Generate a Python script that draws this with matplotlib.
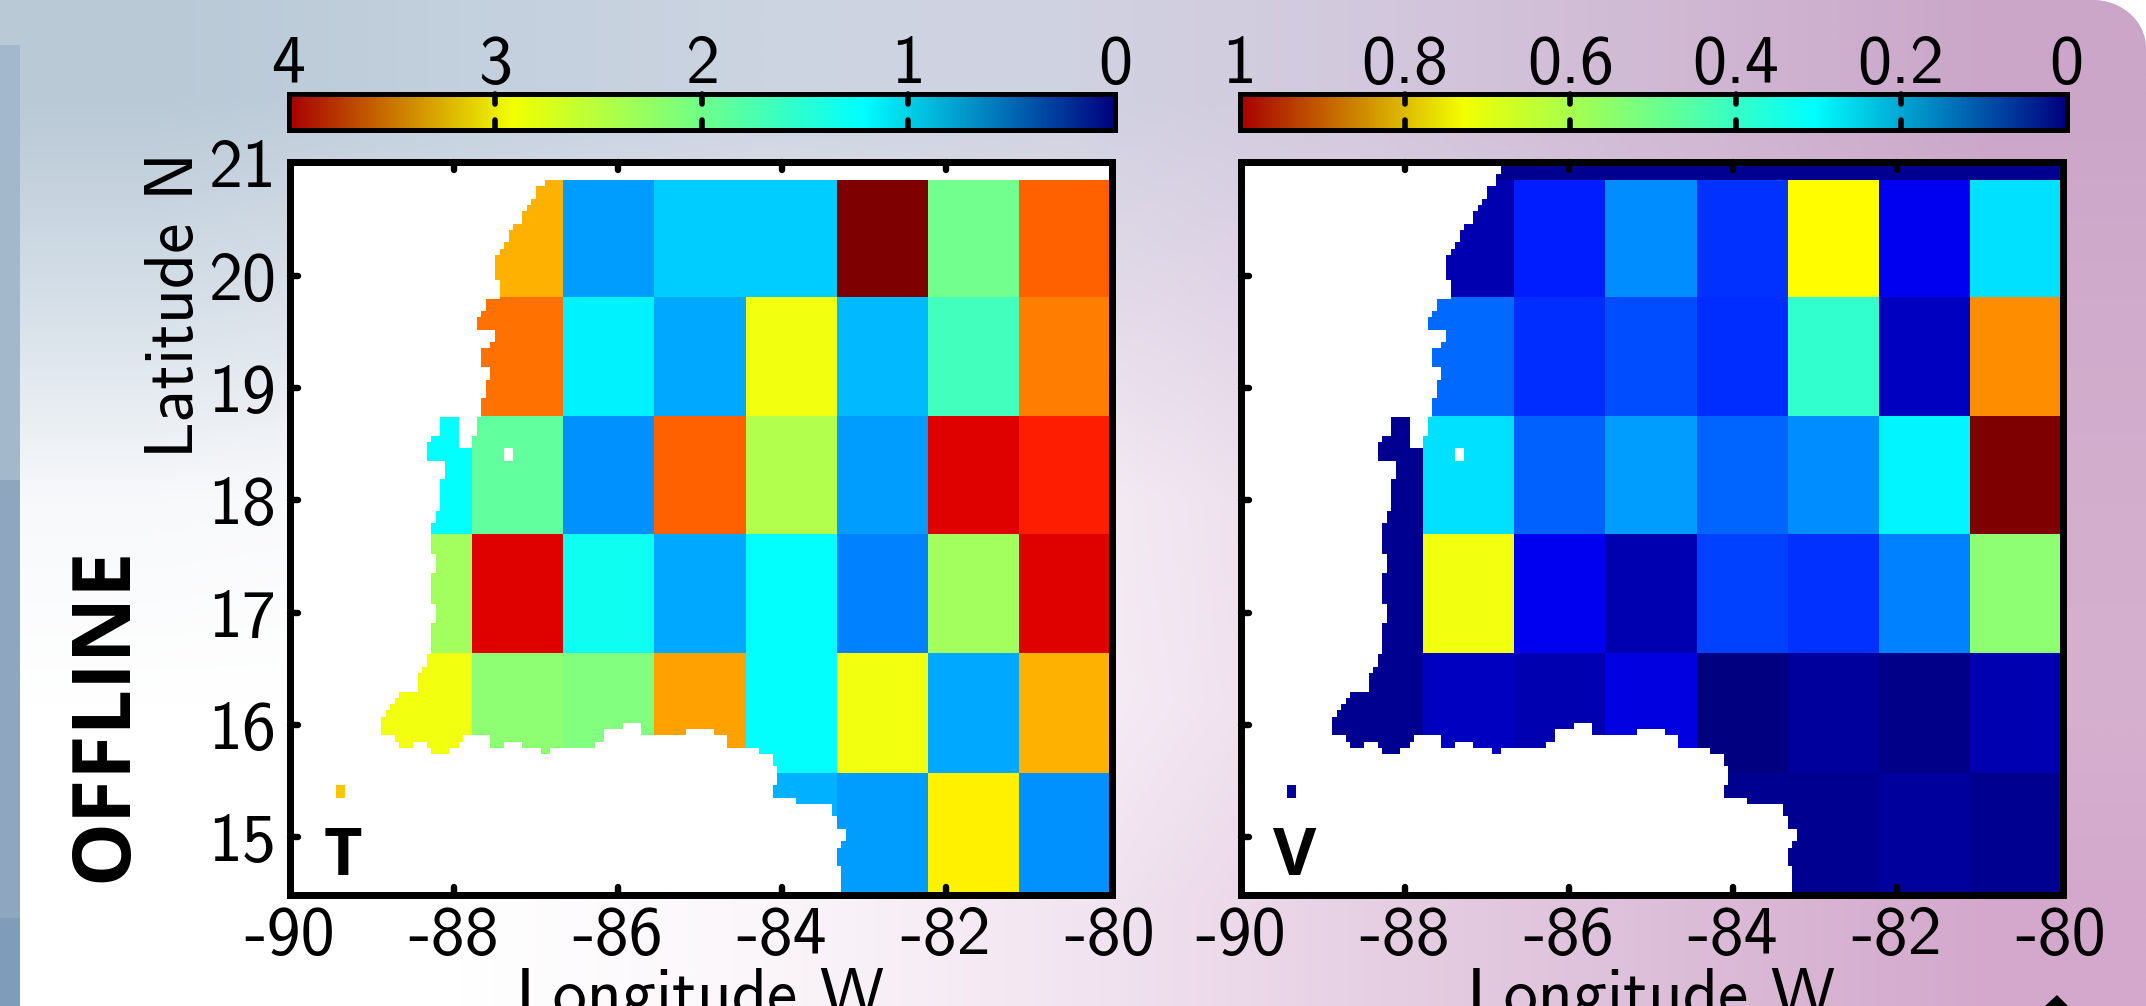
#!/usr/bin/env python3
# T and V offline maps over the Yucatan / western Caribbean, on the slide background
import numpy as np
import matplotlib
matplotlib.use('Agg')
import matplotlib.pyplot as plt
from matplotlib.colors import LinearSegmentedColormap, ListedColormap
from matplotlib.markers import MarkerStyle, TICKUP, TICKDOWN, TICKRIGHT
from matplotlib.patches import Rectangle, Polygon

W, H = 2146, 1006

# coarse boxes, 9 in longitude, rows from south to north, last row is the strip at the top
lon_edges = np.linspace(-90, -80, 10)
lat_edges = [14.49, 15.57, 16.64, 17.70, 18.75, 19.81, 20.85, 21.02]
nan = np.nan

T_vals = [
    [2.72, nan, nan, nan, nan, 1.20, 1.11, 2.56, 1.07],
    [nan, 2.44, 2.06, 2.00, 2.87, 1.50, 2.44, 1.17, 2.81],
    [nan, 2.13, 3.62, 1.56, 1.17, 1.50, 1.00, 2.13, 3.62],
    [nan, 1.50, 1.88, 1.07, 3.12, 2.19, 1.11, 3.62, 3.38],
    [nan, nan, 3.06, 1.44, 1.17, 2.44, 1.23, 1.75, 3.00],
    [nan, nan, 2.81, 1.11, 1.30, 1.30, 4.00, 1.94, 3.12],
    [nan, nan, nan, nan, nan, nan, nan, nan, nan],
]
V_vals = [
    [0.03, nan, nan, nan, nan, 0.016, 0.016, 0.0275, 0.016],
    [nan, 0.016, 0.0625, 0.0475, 0.095, 0.00, 0.0275, 0.008, 0.0475],
    [nan, 0.016, 0.61, 0.11, 0.0475, 0.1875, 0.172, 0.25, 0.515],
    [nan, 0.016, 0.345, 0.219, 0.2775, 0.223, 0.2625, 0.365, 1.00],
    [nan, nan, 0.227, 0.168, 0.20, 0.168, 0.4225, 0.0625, 0.7375],
    [nan, nan, 0.0475, 0.156, 0.2625, 0.172, 0.625, 0.11, 0.345],
    [nan, nan, 0.016, 0.016, 0.016, 0.016, 0.016, 0.016, 0.016],
]
# matlab style jet, pure cyan and pure yellow are in the boxes
jet_pos = [0.0, 0.125, 0.375, 0.625, 0.875, 1.0]
jet_colors = ['#000080', '#0000ff', '#00ffff', '#ffff00', '#ff0000', '#7f0000']

# land mask on the 1/18 degree grid
# first sea column of each fine row, from the top row (north) to the south
first_sea_col = [57, 57, 56,
    56, 54, 54, 53, 52, 51, 51, 49, 48, 48, 47, 46, 45, 45, 45, 45, 46, 46, 46,
    43, 43, 42, 41, 41, 45, 45, 44, 42, 42, 42, 44, 44, 43, 43, 43, 42, 42, 42,
    33, 33, 33, 31, 30, 30, 30, 34, 34, 34, 33, 33, 33, 33, 33, 32, 32, 31, 31,
    31, 31, 31, 32, 32, 32, 31, 31, 31, 31, 31, 32, 32, 32, 31, 31, 31, 31, 31,
    30, 30, 29, 28, 28, 28, 24, 23, 22, 21, 20, 20, 20, 20, 20, 20,
    106, 106, 107, 107, 107, 106, 106, 111, 119, 119, 120, 120, 122, 122, 121,
    120, 120, 120, 121, 121, 121, 121, 121]
ROW0 = 3    # rows of the list above row 0, which starts at 20.852N
# last sea row (counted from row 0) of columns 20 to 105
south_edge_cols = [89, 89, 89, 90, 91, 91, 91, 90, 90, 90, 91, 92, 92, 92, 92,
    91, 91, 90, 89, 89, 89, 89, 89, 89, 91, 91, 91, 90, 90, 90, 90, 91, 91, 91,
    91, 92, 92, 91, 91, 91, 91, 91, 91, 91, 91, 91, 91, 90, 90, 88, 88, 88, 88,
    87, 87, 87, 87, 89, 89, 89, 89, 89, 89, 89, 89, 89, 89, 88, 88, 88, 88, 88,
    88, 89, 89, 89, 91, 91, 91, 91, 91, 91, 91, 92, 92, 92]
# (row, column) of the fine cells that break those two rules
bay_cells = [(r, c) for r in (38, 39, 40) for c in (37, 38, 39, 40)] + \
            [(r, c) for r in (41, 42) for c in (37, 38, 39)]
hole_cells = [(43, 47), (43, 48), (44, 47), (44, 48)]
island_cells = [(97, 10), (97, 11), (98, 10), (98, 11)]

cbar_T_ticks = [4, 3, 2, 1, 0]
cbar_V_ticks = [1, 0.8, 0.6, 0.4, 0.2, 0]
cbar_V_labels = ['1', '0.8', '0.6', '0.4', '0.2', '0']
lon_ticks = [-90, -88, -86, -84, -82, -80]
lat_ticks = [15, 16, 17, 18, 19, 20, 21]

# the colour bars do not use jet, they are a plain 4 stop ramp
cbar_pos = [0.0, 0.305, 0.73, 1.0]
cbar_colors = ['#00007f', '#00ffff', '#f2ff00', '#a80000']

# slide background, coarse colours blended across the page
bg_colors = [
    ['#b9c9d6', '#c3d0de', '#ccd4e1', '#d0d2e1', '#d3c8dd', '#d0b8d3', '#cba6c9'],
    ['#d5dfe8', '#dfe4ec', '#e6e7f0', '#e4dcea', '#dfd0e4', '#d7bfd7', '#d0abcb'],
    ['#f8f9fb', '#fbfbfd', '#f8f5f9', '#f5edf5', '#e9d8e8', '#dcc4db', '#d4aecd'],
    ['#ffffff', '#ffffff', '#fbf8fb', '#f6eef6', '#ecd9ea', '#e0c6dd', '#d6b0cf'],
    ['#ffffff', '#ffffff', '#fbf6fa', '#f2e5f1', '#e6cfe3', '#dcbdd8', '#d3a8cc'],
]
# left strip of the slide, top to bottom
strip_colors = ['#a4b8cb', '#8fa7be', '#7f9cb8']

plt.rcParams['font.family'] = ['cmss10', 'DejaVu Sans']
plt.rcParams['axes.unicode_minus'] = False
FS = 49
LW = 7 * 72 / 100.      # spine widths are given in pixels at dpi 100
LWC = 5 * 72 / 100.


def px_axes(fig, x0, y0, x1, y1):
    # axes from pixel box, y measured from the top of the image
    return fig.add_axes([x0 / W, 1 - y1 / H, (x1 - x0) / W, (y1 - y0) / H])


def land_mask():
    nrow, ncol = len(first_sea_col), 180
    land = np.ones((nrow, ncol), dtype=bool)
    for i, c in enumerate(first_sea_col):
        land[i, c:] = False
    for k, e in enumerate(south_edge_cols):
        land[e + ROW0:, k + 20] = True
    for r, c in bay_cells + hole_cells:
        land[r + ROW0, c] = True
    for r, c in island_cells:
        land[r + ROW0, c] = False
    return land


def draw_map(ax, vals, vmax, land, letter, lab_left):
    jet = LinearSegmentedColormap.from_list('jet2', list(zip(jet_pos, jet_colors)), N=256)
    ax.pcolormesh(lon_edges, lat_edges, np.ma.masked_invalid(vals), cmap=jet,
                  vmin=0, vmax=vmax, antialiased=False)
    lon_f = np.linspace(-90, -80, 181)
    lat_f = 20.852 - (np.arange(land.shape[0] + 1) - ROW0) / 18.
    ax.pcolormesh(lon_f, lat_f, np.ma.masked_where(~land, land.astype(float)),
                  cmap=ListedColormap(['white']), antialiased=False)
    ax.set_xlim(-90, -79.975)
    ax.set_ylim(14.49, 21.012)
    ax.set_xticks(lon_ticks)
    ax.set_xticklabels([str(v) for v in lon_ticks])
    ax.set_yticks(lat_ticks)
    ax.tick_params(axis='x', which='major', direction='in', top=True, length=5.8,
                   width=4.6, pad=8, labelsize=FS)
    ax.tick_params(axis='y', which='major', direction='in', length=5.8, width=4.6,
                   pad=10, labelsize=FS, labelleft=lab_left)
    for i, t in enumerate(ax.xaxis.get_major_ticks()):
        t.tick1line.set_marker(MarkerStyle(TICKUP, capstyle='round'))
        t.tick2line.set_marker(MarkerStyle(TICKDOWN, capstyle='round'))
        if lon_ticks[i] in (-90, -80):
            t.tick1line.set_visible(False)
            t.tick2line.set_visible(False)
    for i, t in enumerate(ax.yaxis.get_major_ticks()):
        t.tick1line.set_marker(MarkerStyle(TICKRIGHT, capstyle='round'))
        if lat_ticks[i] == 21:
            t.tick1line.set_visible(False)
    for s in ax.spines.values():
        s.set_linewidth(LW)
        s.set_capstyle('projecting')
    ax.text(-89.35, 14.665, letter, fontsize=48, fontweight='bold',
            family='Open Sans', ha='center', va='baseline')


def draw_cbar(ax, ticks, labels, top):
    ramp = LinearSegmentedColormap.from_list('bar', list(zip(cbar_pos, cbar_colors)), N=512)
    ax.imshow(np.linspace(1, 0, 512)[None, :], cmap=ramp, vmin=0, vmax=1, aspect='auto',
              extent=[top, 0, 0, 1])
    ax.set_xlim(top, 0)
    ax.set_ylim(0, 1)
    ax.set_yticks([])
    ax.set_xticks(ticks)
    ax.set_xticklabels(labels)
    ax.tick_params(axis='x', direction='in', top=True, bottom=True, labeltop=True,
                   labelbottom=False, length=7, width=4, pad=-1.5, labelsize=FS)
    for i, t in enumerate(ax.xaxis.get_major_ticks()):
        t.tick1line.set_marker(MarkerStyle(TICKUP, capstyle='round'))
        t.tick2line.set_marker(MarkerStyle(TICKDOWN, capstyle='round'))
        if ticks[i] in (0, top):
            t.tick1line.set_visible(False)
            t.tick2line.set_visible(False)
    for s in ax.spines.values():
        s.set_linewidth(LWC)
        s.set_capstyle('projecting')


fig = plt.figure(figsize=(W / 100., H / 100.), dpi=100)

# background
bg = fig.add_axes([0, 0, 1, 1], zorder=-1)
bg_rgb = np.array([[matplotlib.colors.to_rgb(c) for c in row] for row in bg_colors])
bg.imshow(bg_rgb, extent=[0, W, H, 0], aspect='auto', interpolation='bilinear')
bg.set_xlim(0, W)
bg.set_ylim(H, 0)
bg.axis('off')
for (y0, y1), c in zip([(45, 480), (480, 918), (918, H)], strip_colors):
    bg.add_patch(Rectangle((0, y0), 20, y1 - y0, color=c, lw=0))
# white corner of the slide, and the small arrow head at the bottom
corner = np.linspace(0, np.pi / 2, 30)
bg.add_patch(Polygon(np.r_[[[2146, 0]], np.c_[2093 + 53 * np.sin(corner), 48 - 48 * np.cos(corner)]],
                     closed=True, color='white', lw=0))
bg.add_patch(Polygon([[2045, 1006], [2057, 995], [2068, 1006]], closed=True, color='black', lw=0))

land = land_mask()
ax1 = px_axes(fig, 290, 162, 1112, 894.5)
ax2 = px_axes(fig, 1241, 162, 2063, 894.5)
draw_map(ax1, T_vals, 4, land, 'T', True)
draw_map(ax2, V_vals, 1, land, 'V', False)

cb1 = px_axes(fig, 288.5, 93.5, 1115, 129.5)
cb2 = px_axes(fig, 1239.5, 93.5, 2066.5, 129.5)
draw_cbar(cb1, cbar_T_ticks, [str(v) for v in cbar_T_ticks], 4)
draw_cbar(cb2, cbar_V_ticks, cbar_V_labels, 1)

fig.text(700 / W, 1 - 1016 / H, 'Longitude W', fontsize=FS, ha='center', va='baseline')
fig.text(1651 / W, 1 - 1016 / H, 'Longitude W', fontsize=FS, ha='center', va='baseline')
fig.text(175 / W, 1 - 305 / H, 'Latitude N', fontsize=FS, rotation=90, ha='center', va='center')
fig.text(105 / W, 1 - 714 / H, 'OFFLINE', fontsize=58, fontweight='bold', family='Open Sans',
         rotation=90, ha='center', va='center')

fig.savefig('out.png', dpi=100)
